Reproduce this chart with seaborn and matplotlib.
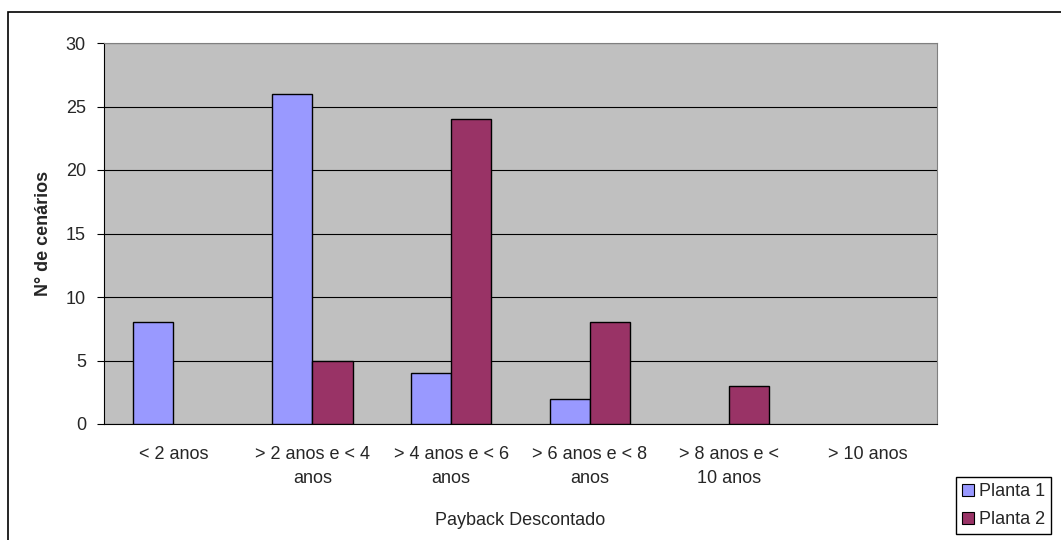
import matplotlib
matplotlib.use("Agg")
import matplotlib.pyplot as plt
import seaborn as sns
import pandas as pd
from matplotlib.patches import Rectangle

categories = ["< 2 anos", "> 2 anos e < 4\nanos", "> 4 anos e < 6\nanos",
              "> 6 anos e < 8\nanos", "> 8 anos e <\n10 anos", "> 10 anos"]
planta1 = [8, 26, 4, 2, 0, 0]
planta2 = [0, 5, 24, 8, 3, 0]
series = ["Planta 1", "Planta 2"]
colors = ["#9999FF", "#993366"]
yticks = [0, 5, 10, 15, 20, 25, 30]

df = pd.DataFrame({
    "cat": categories * 2,
    "val": planta1 + planta2,
    "serie": [series[0]] * len(categories) + [series[1]] * len(categories),
})

sns.set_style("white")
plt.rcParams["font.family"] = ["Liberation Sans", "DejaVu Sans"]
FS = 13

fig = plt.figure(figsize=(10.61, 5.40), dpi=100)
ax = fig.add_axes([104 / 1061, 1 - 424 / 540, (937 - 104) / 1061, (424 - 43) / 540])
ax.set_facecolor("#C0C0C0")

sns.barplot(data=df, x="cat", y="val", hue="serie", palette=colors,
            order=categories, hue_order=series, width=0.58, gap=0,
            edgecolor="black", linewidth=1, saturation=1, ax=ax, zorder=3)

# empty bars leave no outline on the baseline
for p in ax.patches:
    if p.get_height() == 0:
        p.set_linewidth(0)

ax.set_ylim(0, 30)
ax.set_xlim(-0.5, len(categories) - 0.5)
ax.set_yticks(yticks)
ax.yaxis.grid(True, color="black", linewidth=0.8, zorder=1)
ax.set_axisbelow(True)
ax.tick_params(axis="y", labelsize=FS, length=5, width=0.8, color="black",
               left=True, pad=8)
ax.tick_params(axis="x", labelsize=FS, length=0, pad=16)
for lbl in ax.get_xticklabels():
    lbl.set_linespacing(1.55)
for s in ["left", "bottom"]:
    ax.spines[s].set_color("black")
    ax.spines[s].set_linewidth(0.8)
for s in ["top", "right"]:
    ax.spines[s].set_color("#808080")
    ax.spines[s].set_linewidth(0.8)

ax.set_ylabel("N° de cenários", fontsize=FS, fontweight="bold")
ax.yaxis.set_label_coords(52 / 1061, 0.5 * (1 - 424 / 540 + 1 - 43 / 540),
                          transform=fig.transFigure)
ax.set_xlabel("Payback Descontado", fontsize=FS)
ax.xaxis.set_label_coords((104 + 937) / 2 / 1061, 28 / 540,
                          transform=fig.transFigure)

leg = ax.legend(loc="lower left", bbox_to_anchor=(956 / 1061, 6 / 540),
                bbox_transform=fig.transFigure, fontsize=FS, frameon=True,
                fancybox=False, edgecolor="black", framealpha=1,
                handlelength=0.65, handleheight=0.65, handletextpad=0.3,
                borderpad=0.32, labelspacing=0.62, borderaxespad=0)
for h in leg.legend_handles:
    h.set_edgecolor("black")
    h.set_linewidth(0.8)

# outer chart border: left and top edges, running off the right and bottom
fig.patches.append(Rectangle((8 / 1061, -10 / 540), 1070 / 1061, 538 / 540,
                             transform=fig.transFigure, fill=False,
                             edgecolor="black", linewidth=1.2))

fig.savefig("out.png", dpi=100, facecolor="white")
